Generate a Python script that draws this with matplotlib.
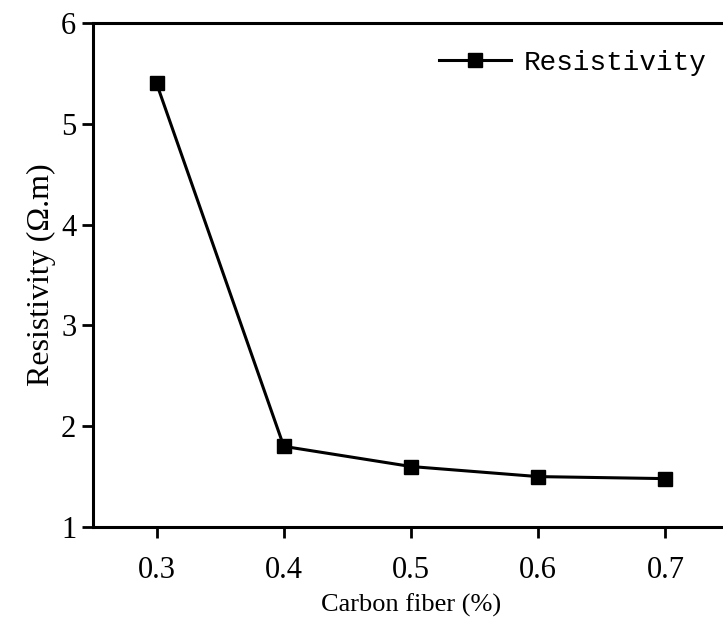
import matplotlib.pyplot as plt

# data
carbon_fiber = [0.3, 0.4, 0.5, 0.6, 0.7]
resistivity = [5.4, 1.8, 1.6, 1.5, 1.48]
x_ticks = [0.3, 0.4, 0.5, 0.6, 0.7]
y_ticks = [1, 2, 3, 4, 5, 6]

plt.rcParams['font.family'] = ['Liberation Serif', 'DejaVu Serif']

fig = plt.figure(figsize=(7.23, 6.23), dpi=100)
# right spine sits just past the image edge, as in the cropped original
ax = fig.add_axes([93 / 723, 1 - 527 / 623, 636 / 723, (527 - 23) / 623])

ax.plot(carbon_fiber, resistivity, color='black', lw=2.2, marker='s', ms=10,
        label='Resistivity')

ax.set_xlim(0.25, 0.75)
ax.set_ylim(1, 6)
ax.set_xticks(x_ticks)
ax.set_xticklabels([f'{v:.1f}' for v in x_ticks])
ax.set_yticks(y_ticks)
ax.tick_params(direction='out', length=8, width=2, labelsize=22)
ax.tick_params(axis='x', pad=13)
ax.tick_params(axis='y', pad=4)
for s in ['left', 'bottom', 'top', 'right']:
    ax.spines[s].set_linewidth(2.2)

ax.set_xlabel('Carbon fiber (%)', fontsize=19, labelpad=6)
ax.set_ylabel('Resistivity (Ω.m)', fontsize=23, labelpad=4)

leg = ax.legend(loc='upper right', bbox_to_anchor=(0.995, 0.985), frameon=False,
                prop={'family': 'Liberation Mono', 'size': 20},
                handlelength=2.6, handletextpad=0.45, borderaxespad=0.3)

fig.savefig('out.png', dpi=100)
